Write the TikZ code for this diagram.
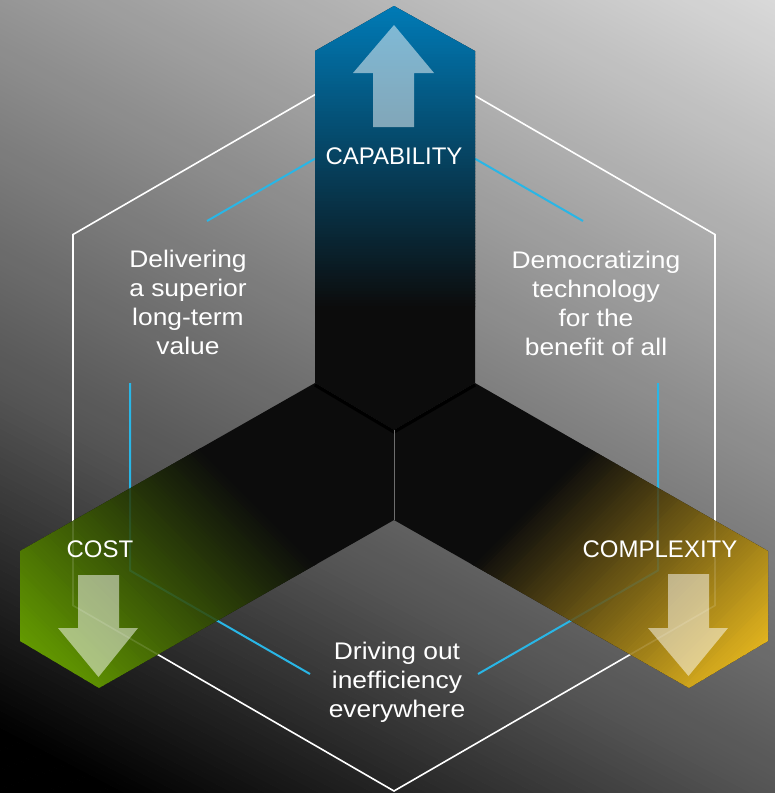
\documentclass[tikz,border=0pt]{standalone}
\usepackage{fontspec}
\setmainfont{Liberation Sans}
\newfontfamily\widesans[FakeStretch=1.1]{Liberation Sans}
\definecolor{cyanl}{RGB}{41,182,230}
\definecolor{armblack}{RGB}{12,12,12}
\definecolor{capblue}{RGB}{0,122,182}
\definecolor{costgreen}{RGB}{100,155,0}
\definecolor{cplxgold}{RGB}{226,180,30}
\begin{document}
\begin{tikzpicture}[x=1pt,y=-1pt,
  hexline/.style={draw=white,line width=1.6pt},
  cyanline/.style={draw=cyanl,line width=2pt},
  lbl/.style={text=white,font=\fontsize{24}{29}\selectfont,inner sep=0pt,align=center},
  body/.style={lbl,font=\widesans\fontsize{24}{29}\selectfont},
  blockarrow/.style={fill=white,fill opacity=0.5}]
\useasboundingbox (0,0) rectangle (775,793);
% ---------- background gradient ----------
\begin{scope}
\clip (0,0) rectangle (775,793);
\foreach \k in {0,...,221} {
  \pgfmathsetmacro\ta{5*\k-725}
  \pgfmathsetmacro\tb{\ta+5.6}
  \pgfmathsetmacro\tm{\ta+2.5}
  \pgfmathsetmacro\va{150+0.189*(\tm)}
  \pgfmathsetmacro\vb{0.28*(\tm+650)}
  \pgfmathsetmacro\vc{min(\va,\vb)}
  \pgfmathtruncatemacro\v{max(0,min(255,\vc))}
  \pgfmathsetmacro\xa{0.4635*(\ta)}
  \pgfmathsetmacro\ya{0.8863*(\ta)}
  \pgfmathsetmacro\xb{0.4635*(\tb)}
  \pgfmathsetmacro\yb{0.8863*(\tb)}
  \definecolor{bgc}{RGB}{\v,\v,\v}
  \fill[bgc] (\xa-1063.6,-\ya-556.2) -- (\xa+1063.6,-\ya+556.2)
    -- (\xb+1063.6,-\yb+556.2) -- (\xb-1063.6,-\yb-556.2) -- cycle;
}
\end{scope}
% ---------- key coordinates ----------
\coordinate (T0) at (394,6);
\coordinate (T1) at (475,51);
\coordinate (T2) at (475,383);
\coordinate (C) at (394,430);
\coordinate (T4) at (315,383);
\coordinate (T5) at (315,51);
\coordinate (D) at (394,520);
\coordinate (L1) at (99,688);
\coordinate (L2) at (20,641);
\coordinate (L3) at (20,551);
\coordinate (R1) at (689,688);
\coordinate (R2) at (768,641);
\coordinate (R3) at (768,551);
% outer hexagon
\coordinate (H0) at (394,49);
\coordinate (H1) at (715,234.5);
\coordinate (H2) at (715,605.5);
\coordinate (H3) at (394,791);
\coordinate (H4) at (73,605.5);
\coordinate (H5) at (73,234.5);
% inner hexagon pieces
\coordinate (I4) at (130,570.5);
\coordinate (I2) at (658,570.5);
\coordinate (Ia) at (207,221);
\coordinate (Ib) at (315,158.7);
\coordinate (Ic) at (475,158.7);
\coordinate (Id) at (583,221);
\coordinate (Ie) at (130,383);
\coordinate (If) at (310,674);
\coordinate (Ig) at (478,674);
\coordinate (Ih) at (658,383);
% ---------- hexagon lines ----------
\draw[hexline] (H0)--(H1)--(H2)--(H3)--(H4)--(H5)--cycle;
\draw[cyanline] (Ia)--(Ib);
\draw[cyanline] (Ic)--(Id);
\draw[cyanline] (Ie)--(I4)--(If);
\draw[cyanline] (Ih)--(I2)--(Ig);
% ---------- top arm ----------
\begin{scope}
\clip (T5)--(T0)--(T1)--(T2)--(C)--(T4)--cycle;
\fill[armblack] (300,0) rectangle (490,440);
\foreach \k in {0,...,102} {
  \pgfmathsetmacro\yy{3*\k}
  \pgfmathsetmacro\yz{\yy+3.6}
  \pgfmathtruncatemacro\p{max(0,min(100,(308.5-\yy)/3))}
  \colorlet{bandc}{capblue!\p!armblack}
  \fill[bandc] (300,\yy) rectangle (490,\yz);
}
\end{scope}
% ---------- left arm ----------
\begin{scope}
\clip (T4)--(C)--(D)--(L1)--(L2)--(L3)--cycle;
\fill[armblack] (0,370) rectangle (400,700);
\foreach \k in {0,...,92} {
  \pgfmathsetmacro\ua{0.7071*(117+3*\k)}
  \pgfmathsetmacro\ub{\ua+2.55}
  \pgfmathtruncatemacro\p{max(0,min(100,(3*\k+1.5)/2.65))}
  \colorlet{bandc}{costgreen!\p!armblack}
  \fill[bandc] (394-\ua-282.8,475+\ua-282.8) -- (394-\ua+282.8,475+\ua+282.8)
     -- (394-\ub+282.8,475+\ub+282.8) -- (394-\ub-282.8,475+\ub-282.8) -- cycle;
}
\end{scope}
% ---------- right arm ----------
\begin{scope}
\clip (T2)--(C)--(D)--(R1)--(R2)--(R3)--cycle;
\fill[armblack] (390,370) rectangle (775,700);
\foreach \k in {0,...,92} {
  \pgfmathsetmacro\ua{0.7071*(117+3*\k)}
  \pgfmathsetmacro\ub{\ua+2.55}
  \pgfmathtruncatemacro\p{max(0,min(100,(3*\k+1.5)/2.65))}
  \colorlet{bandc}{cplxgold!\p!armblack}
  \fill[bandc] (394+\ua+282.8,475+\ua-282.8) -- (394+\ua-282.8,475+\ua+282.8)
     -- (394+\ub-282.8,475+\ub+282.8) -- (394+\ub+282.8,475+\ub-282.8) -- cycle;
}
\end{scope}
% ---------- faint lines seen through the side arms ----------
\begin{scope}
\clip (T4)--(C)--(D)--(L1)--(L2)--(L3)--cycle (T2)--(C)--(D)--(R1)--(R2)--(R3)--cycle;
\draw[hexline,draw opacity=0.13] (H0)--(H1)--(H2)--(H3)--(H4)--(H5)--cycle;
\draw[cyanline,draw opacity=0.13] (Ie)--(I4)--(If);
\draw[cyanline,draw opacity=0.13] (Ih)--(I2)--(Ig);
% shadow under the top arm
\draw[black,line width=3.5pt] ([yshift=-1.8pt]T4) -- ([yshift=-1.8pt]C) -- ([yshift=-1.8pt]T2);
\end{scope}
\draw[draw={rgb,255:red,110;green,110;blue,110},line width=0.8pt] (C) -- (D);
% ---------- block arrows ----------
\fill[blockarrow] (394,25) -- (434,73) -- (414,73) -- (414,127) -- (373,127) -- (373,73) -- (353,73) -- cycle;
\fill[blockarrow] (78,575) -- (119,575) -- (119,628) -- (138,628) -- (98.5,677) -- (58,628) -- (78,628) -- cycle;
\fill[blockarrow] (668,574) -- (709,574) -- (709,628) -- (728,628) -- (688.5,676) -- (648,628) -- (668,628) -- cycle;
% ---------- labels ----------
\node[lbl,anchor=base] (cap) at (394,164) {CAPABILITY};
\node[lbl,anchor=base] (cost) at (100,557) {COST};
\node[lbl,anchor=base] (cplx) at (660,557) {COMPLEXITY};
\node[body,anchor=north] (val) at (188,250) {Delivering\\a superior\\long-term\\value};
\node[body,anchor=north] (dem) at (596,251) {Democratizing\\technology\\for the\\benefit of all};
\node[body,anchor=north] (ineff) at (397,642) {Driving out\\inefficiency\\everywhere};
\end{tikzpicture}
\end{document}
